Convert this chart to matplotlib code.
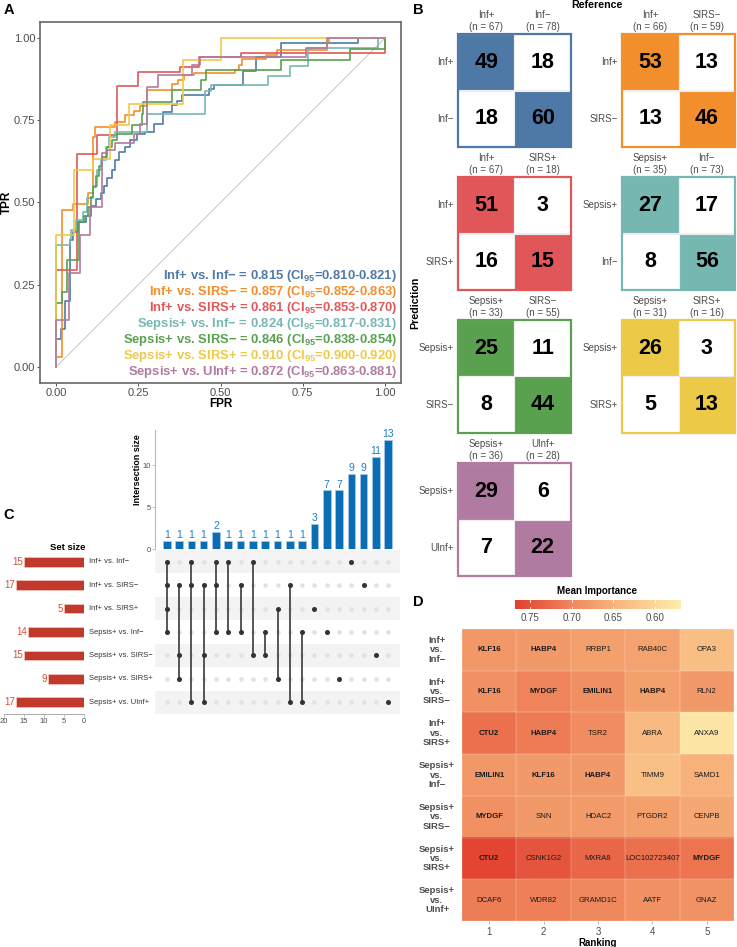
import numpy as np
import matplotlib
matplotlib.use("Agg")
import matplotlib.pyplot as plt
from matplotlib.patches import Rectangle
from matplotlib.colors import LinearSegmentedColormap, Normalize
from collections import Counter

plt.rcParams['font.family'] = ['Liberation Sans', 'DejaVu Sans']
plt.rcParams['mathtext.fontset'] = 'custom'
plt.rcParams['mathtext.rm'] = 'Liberation Sans'
plt.rcParams['mathtext.bf'] = 'Liberation Sans:bold'

# ---------------- DATA ----------------
comparisons = ["Inf+ vs. Inf−", "Inf+ vs. SIRS−", "Inf+ vs. SIRS+", "Sepsis+ vs. Inf−",
               "Sepsis+ vs. SIRS−", "Sepsis+ vs. SIRS+", "Sepsis+ vs. UInf+"]
colors = ["#4E79A7", "#F28E2B", "#E15759", "#76B7B2", "#59A14F", "#EDC948", "#B07AA1"]
auc_text = ["0.815 (CI$_{\\mathbf{95}}$=0.810-0.821)", "0.857 (CI$_{\\mathbf{95}}$=0.852-0.863)",
            "0.861 (CI$_{\\mathbf{95}}$=0.853-0.870)", "0.824 (CI$_{\\mathbf{95}}$=0.817-0.831)",
            "0.846 (CI$_{\\mathbf{95}}$=0.838-0.854)", "0.910 (CI$_{\\mathbf{95}}$=0.900-0.920)",
            "0.872 (CI$_{\\mathbf{95}}$=0.863-0.881)"]

# ROC step corners (fpr where tpr jumps, tpr after jump)
fpr_inf_inf = [0, 0.013, 0.027, 0.04, 0.05, 0.065, 0.09, 0.105, 0.12, 0.135, 0.145, 0.155, 0.17, 0.18,
               0.19, 0.21, 0.225, 0.245, 0.27, 0.296, 0.326, 0.352, 0.367, 0.382, 0.465, 0.48, 0.568,
               0.608, 0.684, 0.918]
tpr_inf_inf = [0.085, 0.115, 0.2, 0.385, 0.41, 0.44, 0.46, 0.49, 0.51, 0.53, 0.55, 0.575, 0.60, 0.63,
               0.655, 0.67, 0.69, 0.71, 0.715, 0.74, 0.776, 0.796, 0.81, 0.829, 0.847, 0.857, 0.9,
               0.943, 0.986, 1.0]
fpr_inf_sirsn = [0, 0.017, 0.05, 0.095, 0.113, 0.118, 0.18, 0.21, 0.235, 0.255, 0.276, 0.352, 0.37,
                 0.39, 0.42, 0.545, 0.555, 0.566, 0.64, 0.672, 0.826, 0.83]
tpr_inf_sirsn = [0.03, 0.477, 0.495, 0.53, 0.70, 0.73, 0.745, 0.766, 0.78, 0.795, 0.842, 0.86, 0.872,
                 0.888, 0.895, 0.905, 0.918, 0.938, 0.948, 0.966, 0.989, 1.0]
fpr_inf_sirsp = [0, 0.063, 0.124, 0.186, 0.25, 0.377, 0.436, 0.562, 1.0]
tpr_inf_sirsp = [0.295, 0.647, 0.705, 0.854, 0.898, 0.913, 0.943, 0.957, 1.0]
fpr_sep_inf = [0, 0.04, 0.043, 0.06, 0.08, 0.093, 0.113, 0.125, 0.135, 0.15, 0.16, 0.178, 0.276,
               0.453, 0.47, 0.645, 0.711, 0.766, 0.98]
tpr_sep_inf = [0.37, 0.39, 0.416, 0.447, 0.47, 0.513, 0.55, 0.60, 0.63, 0.67, 0.70, 0.715, 0.771,
               0.84, 0.857, 0.885, 0.915, 0.97, 1.0]
fpr_sep_sirsn = [0, 0.017, 0.032, 0.068, 0.085, 0.095, 0.105, 0.11, 0.12, 0.13, 0.14, 0.155, 0.17,
                 0.185, 0.23, 0.26, 0.265, 0.352, 0.44, 0.456, 0.684, 0.894, 1.0]
tpr_sep_sirsn = [0.194, 0.226, 0.325, 0.44, 0.46, 0.487, 0.518, 0.548, 0.58, 0.61, 0.64, 0.67, 0.69,
                 0.71, 0.735, 0.77, 0.806, 0.842, 0.872, 0.905, 0.935, 0.968, 1.0]
fpr_sep_sirsp = [0, 0.055, 0.111, 0.164, 0.22, 0.387, 0.5]
tpr_sep_sirsp = [0.40, 0.60, 0.634, 0.735, 0.80, 0.935, 1.0]
fpr_sep_uinf = [0, 0.037, 0.071, 0.103, 0.139, 0.155, 0.18, 0.235, 0.255, 0.276, 0.311, 0.412, 0.438,
                0.762, 0.826]
tpr_sep_uinf = [0.143, 0.285, 0.40, 0.487, 0.65, 0.66, 0.68, 0.71, 0.74, 0.852, 0.888, 0.918, 0.943,
                0.97, 1.0]
roc_fpr = [fpr_inf_inf, fpr_inf_sirsn, fpr_inf_sirsp, fpr_sep_inf, fpr_sep_sirsn, fpr_sep_sirsp, fpr_sep_uinf]
roc_tpr = [tpr_inf_inf, tpr_inf_sirsn, tpr_inf_sirsp, tpr_sep_inf, tpr_sep_sirsn, tpr_sep_sirsp, tpr_sep_uinf]

# Confusion matrices: rows = prediction (pos, neg), cols = reference (pos, neg)
cm_pos = ["Inf+", "Inf+", "Inf+", "Sepsis+", "Sepsis+", "Sepsis+", "Sepsis+"]
cm_neg = ["Inf−", "SIRS−", "SIRS+", "Inf−", "SIRS−", "SIRS+", "UInf+"]
cm_values = [[[49, 18], [18, 60]], [[53, 13], [13, 46]], [[51, 3], [16, 15]], [[27, 17], [8, 56]],
             [[25, 11], [8, 44]], [[26, 3], [5, 13]], [[29, 6], [7, 22]]]

# UpSet
set_sizes = [15, 17, 5, 14, 15, 9, 17]
inter_sizes = [1, 1, 1, 1, 2, 1, 1, 1, 1, 1, 1, 1, 3, 7, 7, 9, 9, 11, 13]
inter_members = [[0, 1, 2, 3], [1, 4, 5], [0, 1, 6], [1, 4, 6], [0, 1, 3], [0, 3], [1, 3], [0, 4],
                 [3, 4], [2, 5], [1, 6], [3, 6], [2], [3], [5], [0], [1], [4], [6]]

# Heatmap
heat_rows = ["Inf+\nvs.\nInf−", "Inf+\nvs.\nSIRS−", "Inf+\nvs.\nSIRS+", "Sepsis+\nvs.\nInf−",
             "Sepsis+\nvs.\nSIRS−", "Sepsis+\nvs.\nSIRS+", "Sepsis+\nvs.\nUInf+"]
heat_genes = [["KLF16", "HABP4", "RRBP1", "RAB40C", "OPA3"],
              ["KLF16", "MYDGF", "EMILIN1", "HABP4", "RLN2"],
              ["CTU2", "HABP4", "TSR2", "ABRA", "ANXA9"],
              ["EMILIN1", "KLF16", "HABP4", "TIMM9", "SAMD1"],
              ["MYDGF", "SNN", "HDAC2", "PTGDR2", "CENPB"],
              ["CTU2", "CSNK1G2", "MXRA8", "LOC102723407", "MYDGF"],
              ["DCAF6", "WDR82", "GRAMD1C", "AATF", "GNAZ"]]
heat_values = [[0.683, 0.680, 0.672, 0.668, 0.635],
               [0.690, 0.703, 0.692, 0.672, 0.680],
               [0.722, 0.712, 0.695, 0.640, 0.578],
               [0.682, 0.680, 0.680, 0.632, 0.650],
               [0.690, 0.680, 0.678, 0.672, 0.662],
               [0.762, 0.748, 0.730, 0.722, 0.718],
               [0.710, 0.708, 0.700, 0.690, 0.688]]
ranking = [1, 2, 3, 4, 5]

# ---------------- FIGURE ----------------
W, H = 737, 947
fig = plt.figure(figsize=(W / 100, H / 100), dpi=100)


def px_axes(x0, y0, x1, y1):
    return fig.add_axes([x0 / W, 1 - y1 / H, (x1 - x0) / W, (y1 - y0) / H])


def ftext(x, y, s, **kw):
    return fig.text(x / W, 1 - y / H, s, **kw)


GRAY = "#4D4D4D"

# ---------- Panel A: ROC ----------
axA = px_axes(40, 22, 401, 383)
axA.plot([0, 1], [0, 1], color="#BBBBBB", lw=0.6, zorder=1)
for f, t, c in zip(roc_fpr, roc_tpr, colors):
    x = [0] + list(f) + [1.0]
    y = [0] + list(t) + [t[-1]]
    axA.step(x, y, where="post", color=c, lw=1.2, zorder=2)
axA.set_xlim(-0.05, 1.05)
axA.set_ylim(-0.05, 1.05)
ticks = [0, 0.25, 0.5, 0.75, 1.0]
axA.set_xticks(ticks)
axA.set_yticks(ticks)
axA.set_xticklabels(["0.00", "0.25", "0.50", "0.75", "1.00"])
axA.set_yticklabels(["0.00", "0.25", "0.50", "0.75", "1.00"])
axA.tick_params(labelsize=8, labelcolor=GRAY, color="#333333", length=2, width=0.6, pad=1.5)
for s in axA.spines.values():
    s.set_color("#666666")
    s.set_linewidth(1.2)
axA.set_xlabel("FPR", fontsize=8.5, fontweight="bold", labelpad=0)
ftext(7, 202, "TPR", rotation=90, ha="center", va="center", fontsize=8.5, fontweight="bold")
for i, (name, auc, c) in enumerate(zip(comparisons, auc_text, colors)):
    ftext(397, 276 + 16 * i, f"{name} = {auc}", ha="right", va="center", fontsize=9.4,
          fontweight="bold", color=c)

# ---------- Panel B: confusion matrices ----------
cm_boxes = [(458, 34), (622, 34), (458, 177), (622, 177), (458, 320), (622, 320), (458, 463)]
size = 113
for k, ((x0, y0), vals, p, n, c) in enumerate(zip(cm_boxes, cm_values, cm_pos, cm_neg, colors)):
    ax = px_axes(x0, y0, x0 + size, y0 + size)
    ax.set_xlim(0, 2)
    ax.set_ylim(2, 0)
    ax.axis("off")
    labels = [p, n]
    for r in range(2):
        for cc in range(2):
            fc = c if r == cc else "white"
            ax.add_patch(Rectangle((cc, r), 1, 1, facecolor=fc, edgecolor="#EEEEEE", lw=0.8))
            ax.text(cc + 0.5, r + 0.5, str(vals[r][cc]), ha="center", va="center",
                    fontsize=15.5, fontweight="bold", color="black")
    ax.add_patch(Rectangle((0, 0), 2, 2, facecolor="none", edgecolor=c, lw=1.6, clip_on=False))
    for cc in range(2):
        ncol = vals[0][cc] + vals[1][cc]
        cx = x0 + size * (cc + 0.5) / 2
        ftext(cx, y0 - 19, labels[cc], ha="center", va="center", fontsize=7, color=GRAY)
        ftext(cx, y0 - 7, f"(n = {ncol})", ha="center", va="center", fontsize=7, color=GRAY)
    for r in range(2):
        ftext(x0 - 4, y0 + size * (r + 0.5) / 2, labels[r], ha="right", va="center",
              fontsize=7, color=GRAY)
ftext(597, 5, "Reference", ha="center", va="center", fontsize=7.7, fontweight="bold")
ftext(415, 303, "Prediction", ha="center", va="center", fontsize=7.7, fontweight="bold",
      rotation=90)

# ---------- Panel C: UpSet ----------
nint = len(inter_sizes)
xs = np.arange(nint)
axI = px_axes(155, 430, 400, 549)
axI.bar(xs, inter_sizes, width=0.62, color="#0A6EB4", edgecolor="#A9CCE8", lw=0.5)
for x, v in zip(xs, inter_sizes):
    axI.text(x, v + 0.1, str(v), ha="center", va="bottom", fontsize=7.5, color="#1F7FC4")
axI.set_xlim(-0.95, nint - 0.05)
axI.set_ylim(0, 14.2)
axI.set_xticks([])
axI.set_yticks([0, 5, 10])
axI.tick_params(axis="y", labelsize=5.5, labelcolor=GRAY, color="#AAAAAA", length=2, width=0.5, pad=1)
for s in ["top", "right", "bottom"]:
    axI.spines[s].set_visible(False)
axI.spines["left"].set_color("#BBBBBB")
axI.spines["left"].set_linewidth(0.8)
ftext(137, 470, "Intersection size", ha="center", va="center", rotation=90, fontsize=6.5,
      fontweight="bold")

nsets = len(set_sizes)
axM = px_axes(155, 550, 400, 714)
axM.set_xlim(-0.95, nint - 0.05)
axM.set_ylim(nsets - 0.5, -0.5)
axM.axis("off")
for r in range(nsets):
    if r % 2 == 0:
        axM.add_patch(Rectangle((-0.95, r - 0.5), nint + 0.9, 1, facecolor="#F3F3F3",
                                edgecolor="none", zorder=0))
for x in xs:
    axM.scatter([x] * nsets, range(nsets), s=11, color="#E2E2E2", zorder=2, lw=0)
for x, mem in zip(xs, inter_members):
    if len(mem) > 1:
        axM.plot([x, x], [min(mem), max(mem)], color="#3A3A3A", lw=1.2, zorder=3)
    axM.scatter([x] * len(mem), mem, s=13, color="#333333", zorder=4, lw=0)

axS = px_axes(4, 550, 84, 714)
axS.barh(range(nsets), set_sizes, height=0.42, color="#C0392B", edgecolor="#F2C2BA", lw=0.6)
axS.set_xlim(20, 0)
axS.set_ylim(nsets - 0.5, -0.5)
for r, v in enumerate(set_sizes):
    axS.text(v + 0.3, r, str(v), ha="right", va="center", fontsize=7, color="#D2503E")
axS.set_yticks([])
axS.set_xticks([20, 15, 10, 5, 0])
axS.tick_params(axis="x", labelsize=5.5, labelcolor=GRAY, color="#AAAAAA", length=2, width=0.5, pad=1)
for s in ["top", "right", "left"]:
    axS.spines[s].set_visible(False)
axS.spines["bottom"].set_color("#AAAAAA")
axS.spines["bottom"].set_linewidth(0.7)
for r, name in enumerate(comparisons):
    ftext(89, 550 + (r + 0.5) * (164 / nsets), name, ha="left", va="center", fontsize=5.5,
          color="#333333")
ftext(85, 547, "Set size", ha="right", va="center", fontsize=6.8, fontweight="bold")

# ---------- Panel D: heatmap ----------
cmap = LinearSegmentedColormap.from_list(
    "imp", [(0.0, "#FEEDAA"), (0.4, "#F8B47C"), (0.65, "#F08A5E"), (1.0, "#E2402F")])
vmin, vmax = 0.569, 0.768
norm = Normalize(vmin=vmin, vmax=vmax)
axD = px_axes(462, 629, 734, 921)
hv = np.array(heat_values)
axD.imshow(hv, cmap=cmap, norm=norm, aspect="auto", extent=(0.5, 5.5, len(heat_rows) + 0.5, 0.5))
for i in range(len(heat_rows) + 1):
    axD.axhline(i + 0.5, color="white", lw=0.3, alpha=0.6)
for j in range(6):
    axD.axvline(j + 0.5, color="white", lw=0.3, alpha=0.6)
gene_counts = Counter(g for row in heat_genes for g in row)
for i, row in enumerate(heat_genes):
    for j, g in enumerate(row):
        axD.text(j + 1, i + 1, g, ha="center", va="center", fontsize=5.6,
                 fontweight="bold" if gene_counts[g] > 1 else "normal", color="#1A1A1A")
axD.set_xlim(0.5, 5.5)
axD.set_ylim(len(heat_rows) + 0.5, 0.5)
axD.set_xticks(ranking)
axD.set_yticks(range(1, len(heat_rows) + 1))
axD.set_yticklabels([])
axD.tick_params(axis="x", labelsize=7, labelcolor=GRAY, color="#999999", length=2, width=0.5, pad=2)
axD.tick_params(axis="y", length=0)
for s in axD.spines.values():
    s.set_visible(False)
axD.set_xlabel("Ranking", fontsize=7, fontweight="bold", labelpad=1)
for i, lab in enumerate(heat_rows):
    ftext(437, 629 + (i + 0.5) * (292 / len(heat_rows)), lab, ha="center", va="center",
          fontsize=6.8, fontweight="bold", color=GRAY, linespacing=1.05)

axC = px_axes(515, 600, 681, 609)
grad = np.linspace(vmax, vmin, 256)[None, :]
axC.imshow(grad, cmap=cmap, norm=norm, aspect="auto", extent=(vmax, vmin, 0, 1))
axC.set_xlim(vmax, vmin)
axC.set_ylim(0, 1)
cb_ticks = [0.75, 0.70, 0.65, 0.60]
for t in cb_ticks:
    axC.plot([t, t], [0, 0.2], color="white", lw=0.6)
    axC.plot([t, t], [0.8, 1], color="white", lw=0.6)
axC.set_xticks(cb_ticks)
axC.set_xticklabels([f"{t:.2f}" for t in cb_ticks])
axC.set_yticks([])
axC.tick_params(axis="x", labelsize=7, labelcolor=GRAY, length=0, pad=3)
for s in axC.spines.values():
    s.set_visible(False)
ftext(597, 591, "Mean Importance", ha="center", va="center", fontsize=7, fontweight="bold")

# ---------- Panel letters ----------
for lab, (x, y) in {"A": (9, 10), "B": (418, 10), "C": (9, 515), "D": (418, 602)}.items():
    ftext(x, y, lab, ha="center", va="center", fontsize=10.5, fontweight="bold")

fig.savefig("out.png", dpi=100)
